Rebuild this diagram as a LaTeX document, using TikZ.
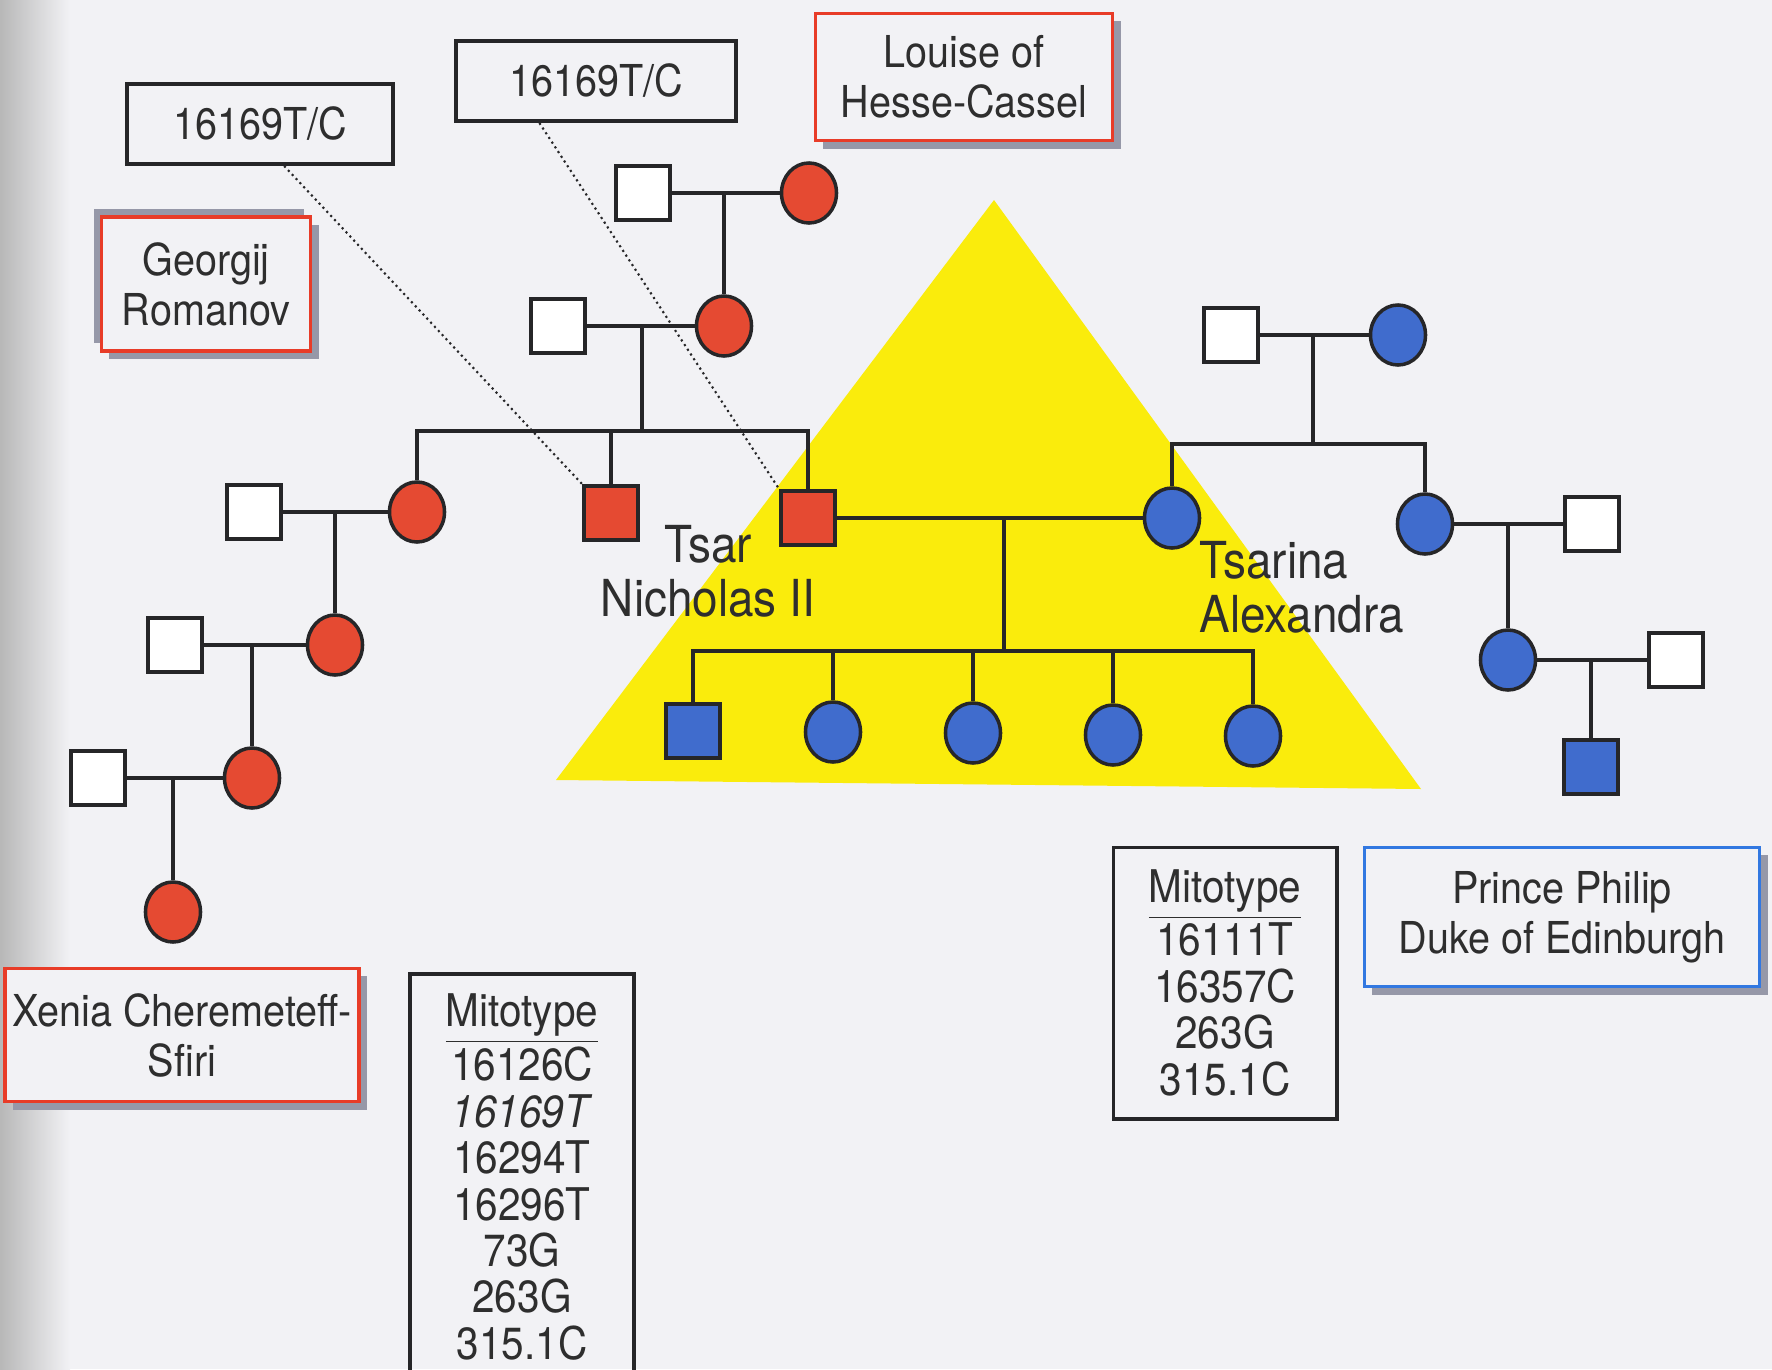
\documentclass[tikz,border=0pt]{standalone}
\usepackage{fontspec}
\setmainfont{TeX Gyre Heros}[FakeStretch=0.9]
\usepackage{xcolor}
\usetikzlibrary{positioning, shapes.geometric, shadows, calc}

\definecolor{paper}{RGB}{242,242,245}
\definecolor{romred}{RGB}{229,74,50}
\definecolor{hesseblue}{RGB}{64,108,205}
\definecolor{triyellow}{RGB}{250,236,12}
\definecolor{linegray}{RGB}{38,38,40}
\definecolor{shadowgray}{RGB}{150,152,168}
\definecolor{boxred}{RGB}{232,60,40}
\definecolor{boxblue}{RGB}{50,120,225}

\begin{document}
\begin{tikzpicture}[x=0.01cm, y=-0.01cm,
    every node/.style={text=black!82},
    man/.style={draw=linegray, line width=1pt, minimum size=0.54cm, inner sep=0pt},
    woman/.style={ellipse, draw=linegray, line width=1pt, minimum width=0.55cm, minimum height=0.6cm, inner sep=0pt},
    open/.style={fill=white},
    redfill/.style={fill=romred},
    bluefill/.style={fill=hesseblue},
    tie/.style={draw=linegray, line width=1pt},
    link/.style={densely dotted, line width=0.6pt, draw=linegray},
    snpbox/.style={draw=linegray, line width=1.1pt, minimum height=0.8cm, font=\fontsize{12.5}{14}\selectfont},
    mitobox/.style={draw=linegray, line width=1.1pt, align=center, font=\fontsize{12.8}{13.2}\selectfont},
    namebox/.style={draw=boxred, line width=1pt, fill=paper, align=center, inner sep=2pt, font=\fontsize{12.5}{14.2}\selectfont,
        drop shadow={shadow xshift=0.08cm, shadow yshift=-0.08cm, fill=shadowgray, opacity=1}},
    famlabel/.style={align=center, font=\fontsize{14.5}{15.4}\selectfont}]

    % page
    \useasboundingbox (0,0) rectangle (1772,1369);
    \clip (0,0) rectangle (1772,1369);
    \fill[paper] (0,0) rectangle (1772,1369);
    \shade[left color=black!28, right color=paper] (0,0) rectangle (70,1369);

    % the Tsar's family
    \fill[triyellow] (994,200) -- (556,780) -- (1421,789) -- cycle;

    % labels
    \node[snpbox, minimum width=2.65cm] (lbox) at (260,124) {16169T/C};
    \node[snpbox, minimum width=2.79cm] (mbox) at (596,81) {16169T/C};
    \node[namebox, minimum width=2.97cm, minimum height=1.27cm] (louise) at (964,77) {Louise of\\Hesse-Cassel};
    \node[namebox, minimum width=2.09cm, minimum height=1.34cm,
        drop shadow={shadow xshift=-0.07cm, shadow yshift=0.08cm, fill=shadowgray, opacity=1}] (georgij) at (206,284) {Georgij\\Romanov};
    \node[namebox, minimum width=3.54cm, minimum height=1.33cm] (xenia) at (182,1035) {Xenia Cheremeteff-\\Sfiri};
    \node[namebox, draw=boxblue, minimum width=3.95cm, minimum height=1.39cm] (philip) at (1562,917) {Prince Philip\\Duke of Edinburgh};
    \node[mitobox, minimum width=2.24cm, minimum height=4.06cm] (mitoL) at (522,1177)
        {\underline{Mitotype}\\16126C\\\textit{16169T}\\16294T\\16296T\\73G\\263G\\315.1C};
    \node[mitobox, minimum width=2.23cm, minimum height=2.71cm] (mitoR) at (1225,983)
        {\underline{Mitotype}\\16111T\\16357C\\263G\\315.1C};

    % Romanov side
    \node[man, open] (hcm) at (643,193) {};
    \node[woman, redfill] (hc) at (809,193) {};
    \node[man, open] (g2m) at (558,326) {};
    \node[woman, redfill] (g2w) at (724,326) {};
    \node[woman, redfill] (g3a) at (417,512) {};
    \node[man, redfill] (g3b) at (611,513) {};
    \node[man, redfill] (tsar) at (808,518) {};
    \node[man, open] (g3am) at (254,512) {};
    \node[woman, redfill] (g4w) at (335,645) {};
    \node[man, open] (g4m) at (175,645) {};
    \node[woman, redfill] (g5w) at (252,778) {};
    \node[man, open] (g5m) at (98,778) {};
    \node[woman, redfill] (xen) at (173,912) {};

    % Hesse side
    \node[man, open] (am) at (1231,335) {};
    \node[woman, bluefill] (aw) at (1398,335) {};
    \node[woman, bluefill] (tsarina) at (1172,518) {};
    \node[woman, bluefill] (sis) at (1425,524) {};
    \node[man, open] (sism) at (1592,524) {};
    \node[woman, bluefill] (alice) at (1508,660) {};
    \node[man, open] (alicem) at (1676,660) {};
    \node[man, bluefill] (phil) at (1591,767) {};

    % children of the Tsar
    \node[man, bluefill] (c1) at (693,731) {};
    \node[woman, bluefill] (c2) at (833,732) {};
    \node[woman, bluefill] (c3) at (973,733) {};
    \node[woman, bluefill] (c4) at (1113,735) {};
    \node[woman, bluefill] (c5) at (1253,736) {};

    \node[famlabel] (tsarlbl) at (708,571) {Tsar\\Nicholas II};
    \node[famlabel, align=left, anchor=west] (tsarinalbl) at (1187,587) {Tsarina\\Alexandra};

    % lines of descent
    \coordinate (s3) at (642,431);
    \coordinate (kids) at (1004,651);
    \coordinate (sibr) at (1313,444);

    \draw[tie] (hcm) -- (hc);
    \draw[tie] (g2w |- hc) -- (g2w);
    \draw[tie] (g2m) -- (g2w);
    \draw[tie] (s3 |- g2w) -- (s3);
    \draw[tie] (g3a) -- (g3a |- s3) -- (tsar |- s3) -- (tsar);
    \draw[tie] (g3b) -- (g3b |- s3);
    \draw[tie] (g3am) -- (g3a);
    \draw[tie] (g4w |- g3a) -- (g4w);
    \draw[tie] (g4m) -- (g4w);
    \draw[tie] (g5w |- g4w) -- (g5w);
    \draw[tie] (g5m) -- (g5w);
    \draw[tie] (xen |- g5w) -- (xen);

    \draw[tie] (tsar) -- (tsarina);
    \draw[tie] (kids |- tsar) -- (kids);
    \draw[tie] (c1) -- (c1 |- kids) -- (c5 |- kids) -- (c5);
    \foreach \k in {c2, c3, c4}
        \draw[tie] (\k) -- (\k |- kids);

    \draw[tie] (am) -- (aw);
    \draw[tie] (sibr |- aw) -- (sibr);
    \draw[tie] (tsarina) -- (tsarina |- sibr) -- (sis |- sibr) -- (sis);
    \draw[tie] (sis) -- (sism);
    \draw[tie] (alice |- sis) -- (alice);
    \draw[tie] (alice) -- (alicem);
    \draw[tie] (phil |- alice) -- (phil);

    % shared 16169 heteroplasmy
    \draw[link] ($(lbox.south west)!0.59!(lbox.south east)$) -- (g3b.north west);
    \draw[link] ($(mbox.south west)!0.30!(mbox.south east)$) -- (tsar.north west);
\end{tikzpicture}
\end{document}
